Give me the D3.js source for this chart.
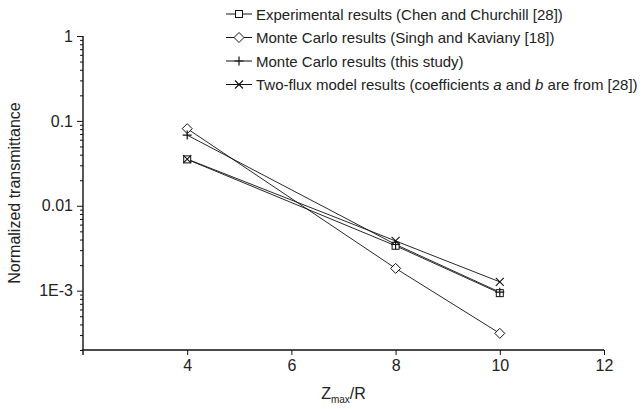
<!DOCTYPE html>
<html>
<head>
<meta charset="utf-8">
<script src="https://cdn.jsdelivr.net/npm/d3@7"></script>
<style>
  html, body { margin: 0; padding: 0; background: #fff; }
  svg { display: block; font-family: "Liberation Sans", Arial, sans-serif; }
</style>
</head>
<body>
<svg id="chart" width="644" height="409"></svg>
<script>
// Normalized transmittance versus Z_max/R
const zOverR = [4, 8, 10];
const experimental = [0.0352, 0.00338, 0.000935];   // Chen and Churchill [28]
const mcSingh      = [0.081, 0.00183, 0.000314];    // Singh and Kaviany [18]
const mcThisStudy  = [0.0680, 0.00350, 0.000960];   // this study
const twoFlux      = [0.0355, 0.00385, 0.00127];    // two-flux model

const xTicks = [4, 6, 8, 10, 12];
const yTicks = [1, 0.1, 0.01, 0.001];
const yTickLabels = ["1", "0.1", "0.01", "1E-3"];

const seriesNames = [
  "Experimental results (Chen and Churchill [28])",
  "Monte Carlo results (Singh and Kaviany [18])",
  "Monte Carlo results (this study)",
  "Two-flux model results (coefficients a and b are from [28])"
];
const seriesValues = [experimental, mcSingh, mcThisStudy, twoFlux];
const seriesMarkers = ["square", "diamond", "plus", "cross"];

const svg = d3.select("#chart");
const margin = { left: 83, right: 40, top: 36, bottom: 59 };
const W = 644, H = 409;

const x = d3.scaleLinear().domain([2, 12]).range([margin.left, W - margin.right]);
const y = d3.scaleLog().domain([2e-4, 1]).range([H - margin.bottom, margin.top]);

// x axis
const xAxis = d3.axisBottom(x).tickValues(xTicks).tickSize(5).tickPadding(5)
  .tickFormat(d3.format("d"));
const gx = svg.append("g").attr("transform", `translate(0,${y.range()[0]})`).call(xAxis);
gx.select(".domain").attr("d", `M${x.range()[0]},0V5V0H${x.range()[1]}`);

// y axis: major decades plus minor ticks
const minorTicks = [];
for (let e = -4; e < 0; e++) {
  for (let m = 2; m <= 9; m++) {
    const v = m * Math.pow(10, e);
    if (v >= 2e-4 && v <= 1) minorTicks.push(v);
  }
}
const gyMinor = svg.append("g").attr("transform", `translate(${x.range()[0]},0)`)
  .call(d3.axisLeft(y).tickValues(minorTicks).tickSize(3).tickFormat(""));
gyMinor.select(".domain").remove();
const yAxis = d3.axisLeft(y).tickValues(yTicks).tickSize(6).tickPadding(4)
  .tickFormat((d, i) => yTickLabels[i]);
const gy = svg.append("g").attr("transform", `translate(${x.range()[0]},0)`).call(yAxis);
gy.select(".domain").attr("d", `M0,${y.range()[1]}V${y.range()[0]}`);

svg.selectAll(".tick text").attr("font-size", 16).attr("fill", "#222")
  .attr("font-family", "Liberation Sans, Arial, sans-serif");
svg.selectAll(".domain").attr("stroke", "#111").attr("stroke-width", 1.4);
svg.selectAll(".tick line").attr("stroke", "#111").attr("stroke-width", 1);

// axis titles
const xt = svg.append("text").attr("x", (x.range()[0] + x.range()[1]) / 2).attr("y", 399)
  .attr("text-anchor", "middle").attr("font-size", 16).attr("fill", "#222");
xt.append("tspan").text("Z");
xt.append("tspan").attr("font-size", 10).attr("dy", 4).text("max");
xt.append("tspan").attr("dy", -4).text("/R");

svg.append("text")
  .attr("transform", `translate(20,${(y.range()[0] + y.range()[1]) / 2}) rotate(-90)`)
  .attr("text-anchor", "middle").attr("font-size", 16).attr("fill", "#222")
  .text("Normalized transmittance");

// marker shapes
function drawMarker(g, type, cx, cy) {
  const s = "#111";
  if (type === "square") {
    g.append("rect").attr("x", cx - 3.5).attr("y", cy - 3.5).attr("width", 7).attr("height", 7)
      .attr("fill", "#fff").attr("stroke", s).attr("stroke-width", 1);
  } else if (type === "diamond") {
    g.append("path").attr("d", `M${cx},${cy - 5}L${cx + 5},${cy}L${cx},${cy + 5}L${cx - 5},${cy}Z`)
      .attr("fill", "#fff").attr("stroke", s).attr("stroke-width", 1);
  } else if (type === "plus") {
    g.append("path").attr("d", `M${cx - 4.5},${cy}H${cx + 4.5}M${cx},${cy - 4.5}V${cy + 4.5}`)
      .attr("stroke", s).attr("stroke-width", 1.2);
  } else if (type === "cross") {
    g.append("path").attr("d", `M${cx - 4},${cy - 4}L${cx + 4},${cy + 4}M${cx + 4},${cy - 4}L${cx - 4},${cy + 4}`)
      .attr("stroke", s).attr("stroke-width", 1.1);
  }
}

const line = d3.line().x((d, i) => x(zOverR[i])).y(d => y(d));
const plot = svg.append("g");
seriesValues.forEach(vals => {
  plot.append("path").datum(vals).attr("d", line)
    .attr("fill", "none").attr("stroke", "#111").attr("stroke-width", 0.9);
});
seriesValues.forEach((vals, k) => {
  const g = plot.append("g");
  vals.forEach((v, i) => drawMarker(g, seriesMarkers[k], x(zOverR[i]), y(v)));
});

// legend
const legend = svg.append("g");
seriesNames.forEach((name, k) => {
  const ly = 14 + k * 23.5;
  legend.append("line").attr("x1", 226).attr("x2", 252).attr("y1", ly).attr("y2", ly)
    .attr("stroke", "#111").attr("stroke-width", 1);
  drawMarker(legend, seriesMarkers[k], 239, ly);
  const t = legend.append("text").attr("x", 256).attr("y", ly + 5.5)
    .attr("font-size", 15).attr("fill", "#222");
  if (k === 3) {
    t.append("tspan").text("Two-flux model results (coefficients ");
    t.append("tspan").attr("font-style", "italic").text("a");
    t.append("tspan").text(" and ");
    t.append("tspan").attr("font-style", "italic").text("b");
    t.append("tspan").text(" are from [28])");
  } else {
    t.text(name);
  }
});
</script>
</body>
</html>
